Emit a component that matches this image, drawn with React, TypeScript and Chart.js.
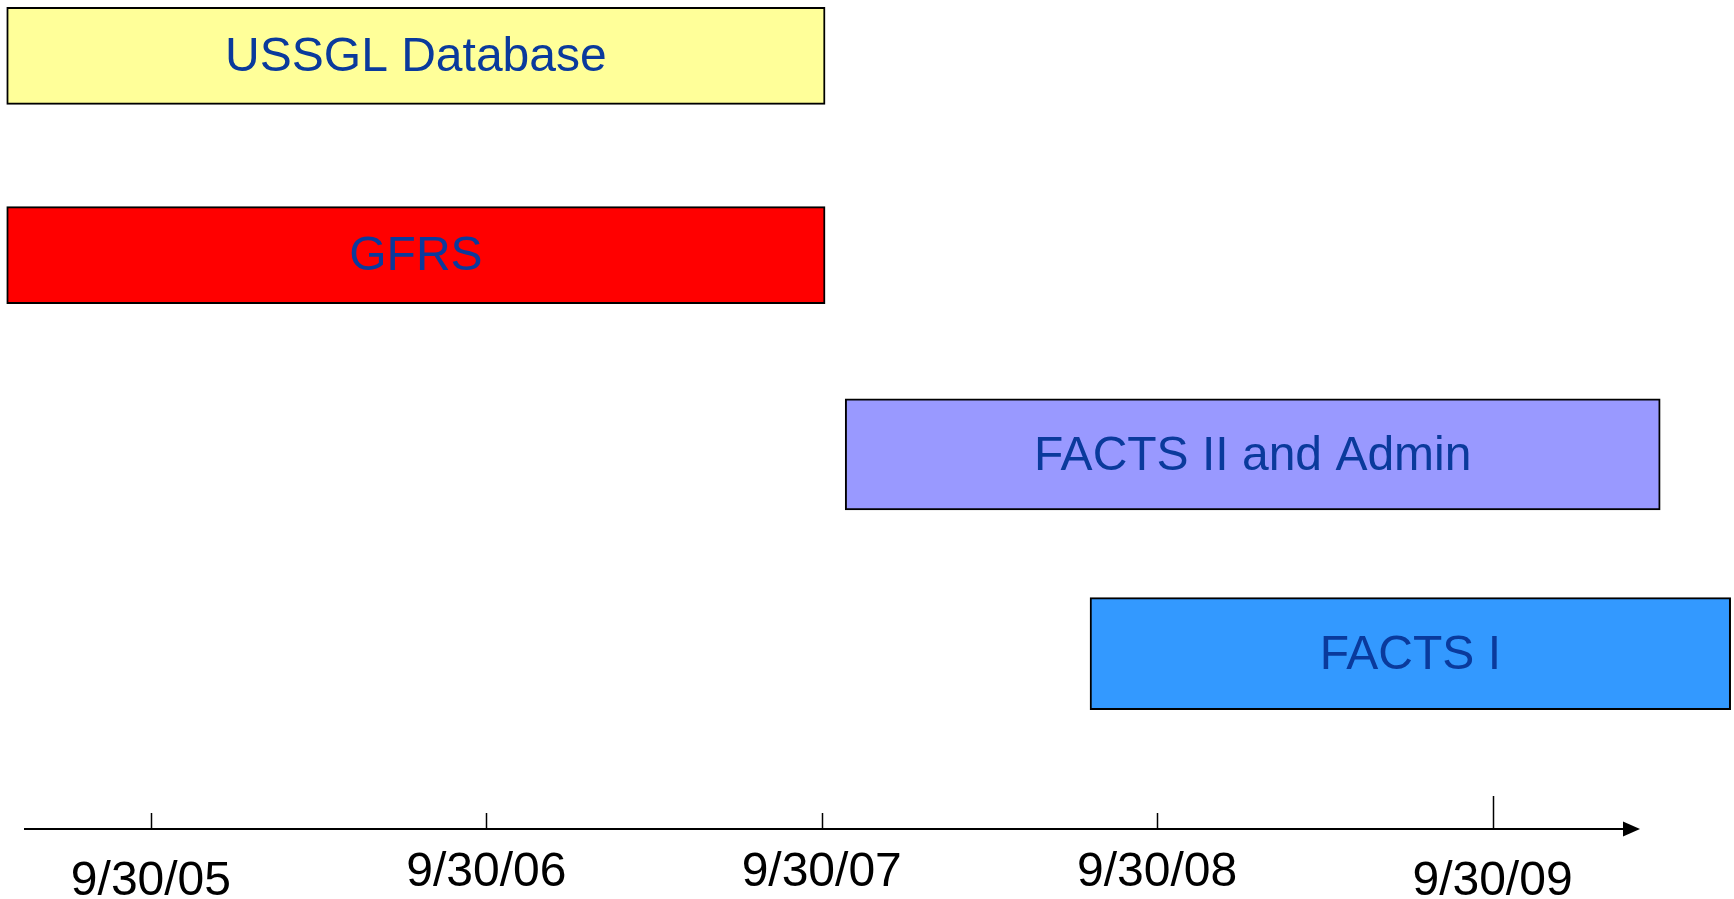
import { useEffect, useRef } from 'react';
import { Chart, registerables } from 'chart.js';

Chart.register(...registerables);

// ---- Data (fiscal timeline, decimal years) ----
const categories = ['USSGL Database', 'GFRS', 'FACTS II and Admin', 'FACTS I'];
const startYears = [2005.32, 2005.32, 2007.82, 2008.55];
const endYears = [2007.76, 2007.76, 2010.25, 2010.46];
const tickValues = [2005.75, 2006.75, 2007.75, 2008.75, 2009.75];
const tickLabels = ['9/30/05', '9/30/06', '9/30/07', '9/30/08', '9/30/09'];

// ---- Styles ----
const barColors = ['#FFFF99', '#FF0000', '#9999FF', '#3399FF'];
const barThickness = [97, 97, 111, 112];
const FONT = '"Liberation Sans", Arial, Helvetica, sans-serif';
const LABEL_COLOR = '#0A3A9C';

const barLabelPlugin = {
  id: 'barLabels',
  afterDatasetsDraw(chart: any) {
    const ctx = chart.ctx;
    ctx.save();
    ctx.font = `48px ${FONT}`;
    ctx.fillStyle = LABEL_COLOR;
    ctx.textAlign = 'center';
    ctx.textBaseline = 'middle';
    chart.data.datasets.forEach((ds: any, i: number) => {
      const meta = chart.getDatasetMeta(i);
      const el: any = meta.data[0];
      if (!el) return;
      const cx = (el.x + el.base) / 2;
      ctx.fillText(ds.label, cx, el.y + 2);
    });
    ctx.restore();
  },
};

const axisPlugin = {
  id: 'arrowAxis',
  afterDraw(chart: any) {
    const ctx = chart.ctx;
    const x = chart.scales.x;
    const y0 = chart.chartArea.bottom;
    const left = chart.chartArea.left + 24;
    const tip = chart.chartArea.left + 1640;
    ctx.save();
    ctx.strokeStyle = '#000';
    ctx.fillStyle = '#000';
    ctx.lineWidth = 2;
    ctx.beginPath();
    ctx.moveTo(left, y0);
    ctx.lineTo(tip - 14, y0);
    ctx.stroke();
    ctx.beginPath();
    ctx.moveTo(tip, y0);
    ctx.lineTo(tip - 17, y0 - 7.5);
    ctx.lineTo(tip - 17, y0 + 7.5);
    ctx.closePath();
    ctx.fill();
    ctx.lineWidth = 1.5;
    tickValues.forEach((v, i) => {
      const px = Math.round(x.getPixelForValue(v)) + 0.5;
      const len = i === tickValues.length - 1 ? 33 : 16;
      ctx.beginPath();
      ctx.moveTo(px, y0);
      ctx.lineTo(px, y0 - len);
      ctx.stroke();
    });
    ctx.restore();
  },
};

export default function App() {
  const canvasRef = useRef<HTMLCanvasElement | null>(null);

  useEffect(() => {
    document.body.style.margin = '0';
    const canvas = canvasRef.current;
    if (!canvas) return;
    const datasets = categories.map((name, i) => ({
      label: name,
      data: [{ x: [startYears[i], endYears[i]], y: i }],
      backgroundColor: barColors[i],
      borderColor: '#000000',
      borderWidth: 2,
      borderSkipped: false,
      barThickness: barThickness[i],
      grouped: false,
      clip: false,
    }));
    const chart = new Chart(canvas, {
      type: 'bar',
      data: { datasets } as any,
      options: {
        indexAxis: 'y',
        animation: false,
        responsive: false,
        maintainAspectRatio: false,
        layout: { padding: 0 },
        plugins: {
          legend: { display: false },
          tooltip: { enabled: false },
          title: { display: false },
        },
        scales: {
          x: {
            type: 'linear',
            position: 'bottom',
            min: 2005.3,
            max: 2010.47,
            grid: { display: false, drawTicks: true, tickLength: 36 },
            border: { display: false },
            afterBuildTicks: (scale: any) => {
              scale.ticks = tickValues.map((v) => ({ value: v }));
            },
            ticks: {
              autoSkip: false,
              maxRotation: 0,
              minRotation: 0,
              padding: -18,
              color: '#000000',
              font: (c: any) => ({
                family: FONT,
                size: 48,
                lineHeight: c.index === 0 || c.index === tickValues.length - 1 ? '70px' : '52px',
              }),
              callback: (_v: any, index: number) => tickLabels[index],
            },
          },
          y: {
            type: 'linear',
            display: false,
            reverse: true,
            offset: false,
            min: -0.28,
            max: 3.88,
          },
        },
      } as any,
      plugins: [barLabelPlugin, axisPlugin],
    });
    return () => chart.destroy();
  }, []);

  return (
    <div style={{ width: 1734, height: 899, background: '#fff' }}>
      <canvas ref={canvasRef} width={1734} height={899} style={{ display: 'block' }} />
    </div>
  );
}
